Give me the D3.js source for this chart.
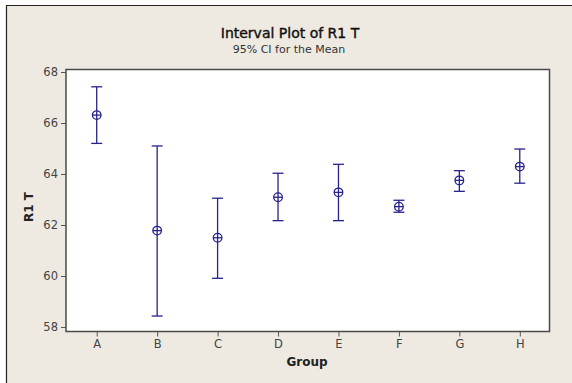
<!DOCTYPE html>
<html>
<head>
<meta charset="utf-8">
<script src="https://cdn.jsdelivr.net/npm/d3@7"></script>
<style>
  body { margin: 0; background: #fff; }
  text { font-family: "DejaVu Sans", sans-serif; }
</style>
</head>
<body>
<svg id="chart" width="572" height="383"></svg>
<script>
// groups and interval values
var groups = ["A", "B", "C", "D", "E", "F", "G", "H"];
var means  = [66.31, 61.78, 61.50, 63.09, 63.28, 62.72, 63.75, 64.29];
var lower  = [65.20, 58.43, 59.91, 62.17, 62.17, 62.50, 63.32, 63.64];
var upper  = [67.42, 65.10, 63.05, 64.03, 64.38, 62.97, 64.13, 64.98];
var yTicks = [58, 60, 62, 64, 66, 68];

var svg = d3.select("#chart");
var ink = "#27238c";

// beige background, border only shows on left and top
svg.append("rect")
    .attr("x", 0).attr("y", 0)
    .attr("width", 572).attr("height", 383)
    .attr("fill", "#ffffff");
svg.append("rect")
    .attr("x", 6).attr("y", 5)
    .attr("width", 566).attr("height", 378)
    .attr("fill", "#eeeae2");
svg.append("path")
    .attr("d", "M6.5,383V5.5H572")
    .attr("fill", "none")
    .attr("stroke", "#222").attr("stroke-width", 1.2);

var frame = {left: 66, right: 549.5, top: 69.5, bottom: 331.5};

svg.append("rect")
    .attr("x", frame.left).attr("y", frame.top)
    .attr("width", frame.right - frame.left)
    .attr("height", frame.bottom - frame.top)
    .attr("fill", "#ffffff");

var x = d3.scalePoint()
    .domain(groups)
    .range([frame.left + 0.5, frame.right + 0.5])
    .padding(0.5);

var y = d3.scaleLinear()
    .domain([58, 68])
    .range([327, 72]);

// axes
var yAxis = svg.append("g")
    .attr("transform", "translate(" + frame.left + ",0)")
    .call(d3.axisLeft(y).tickValues(yTicks).tickSize(5).tickPadding(3));

var xAxis = svg.append("g")
    .attr("transform", "translate(0," + frame.bottom + ")")
    .call(d3.axisBottom(x).tickSize(5).tickPadding(3));

[yAxis, xAxis].forEach(function(a){
    a.select(".domain").remove();
    a.selectAll("line").attr("stroke", "#555");
    a.selectAll("text")
        .attr("fill", "#444")
        .style("font-size", "11.5px")
        .style("font-family", "DejaVu Sans, sans-serif");
});

// frame border
svg.append("rect")
    .attr("x", frame.left).attr("y", frame.top)
    .attr("width", frame.right - frame.left)
    .attr("height", frame.bottom - frame.top)
    .attr("fill", "none")
    .attr("stroke", "#4a4a4a").attr("stroke-width", 1.5);

// titles
svg.append("text")
    .attr("x", 290).attr("y", 38)
    .attr("text-anchor", "middle")
    .style("font-size", "14px")
    .attr("fill", "#111")
    .attr("stroke", "#111").attr("stroke-width", 0.4)
    .text("Interval Plot of R1 T");

svg.append("text")
    .attr("x", 289).attr("y", 53)
    .attr("text-anchor", "middle")
    .style("font-size", "11px")
    .attr("fill", "#333")
    .text("95% CI for the Mean");

svg.append("text")
    .attr("x", 307).attr("y", 366)
    .attr("text-anchor", "middle")
    .style("font-size", "12px")
    .style("font-weight", "bold")
    .attr("fill", "#222")
    .text("Group");

svg.append("text")
    .attr("transform", "translate(33,207) rotate(-90)")
    .attr("text-anchor", "middle")
    .style("font-size", "12px")
    .style("font-weight", "bold")
    .attr("fill", "#222")
    .text("R1 T");

// intervals
var rows = groups.map(function(g, i){
    return {g: g, m: means[i], lo: lower[i], hi: upper[i]};
});

var iv = svg.selectAll("g.iv")
    .data(rows)
    .enter()
    .append("g")
    .attr("class", "iv")
    .attr("stroke", ink)
    .attr("stroke-width", 1.3)
    .attr("fill", "none");

iv.append("line")
    .attr("x1", d => x(d.g)).attr("x2", d => x(d.g))
    .attr("y1", d => y(d.hi)).attr("y2", d => y(d.lo));

iv.append("line")
    .attr("x1", d => x(d.g) - 5.5).attr("x2", d => x(d.g) + 5.5)
    .attr("y1", d => y(d.hi)).attr("y2", d => y(d.hi));

iv.append("line")
    .attr("x1", d => x(d.g) - 5.5).attr("x2", d => x(d.g) + 5.5)
    .attr("y1", d => y(d.lo)).attr("y2", d => y(d.lo));

iv.append("circle")
    .attr("cx", d => x(d.g)).attr("cy", d => y(d.m))
    .attr("r", 4.3);

iv.append("line")
    .attr("x1", d => x(d.g) - 4.3).attr("x2", d => x(d.g) + 4.3)
    .attr("y1", d => y(d.m)).attr("y2", d => y(d.m));
</script>
</body>
</html>
